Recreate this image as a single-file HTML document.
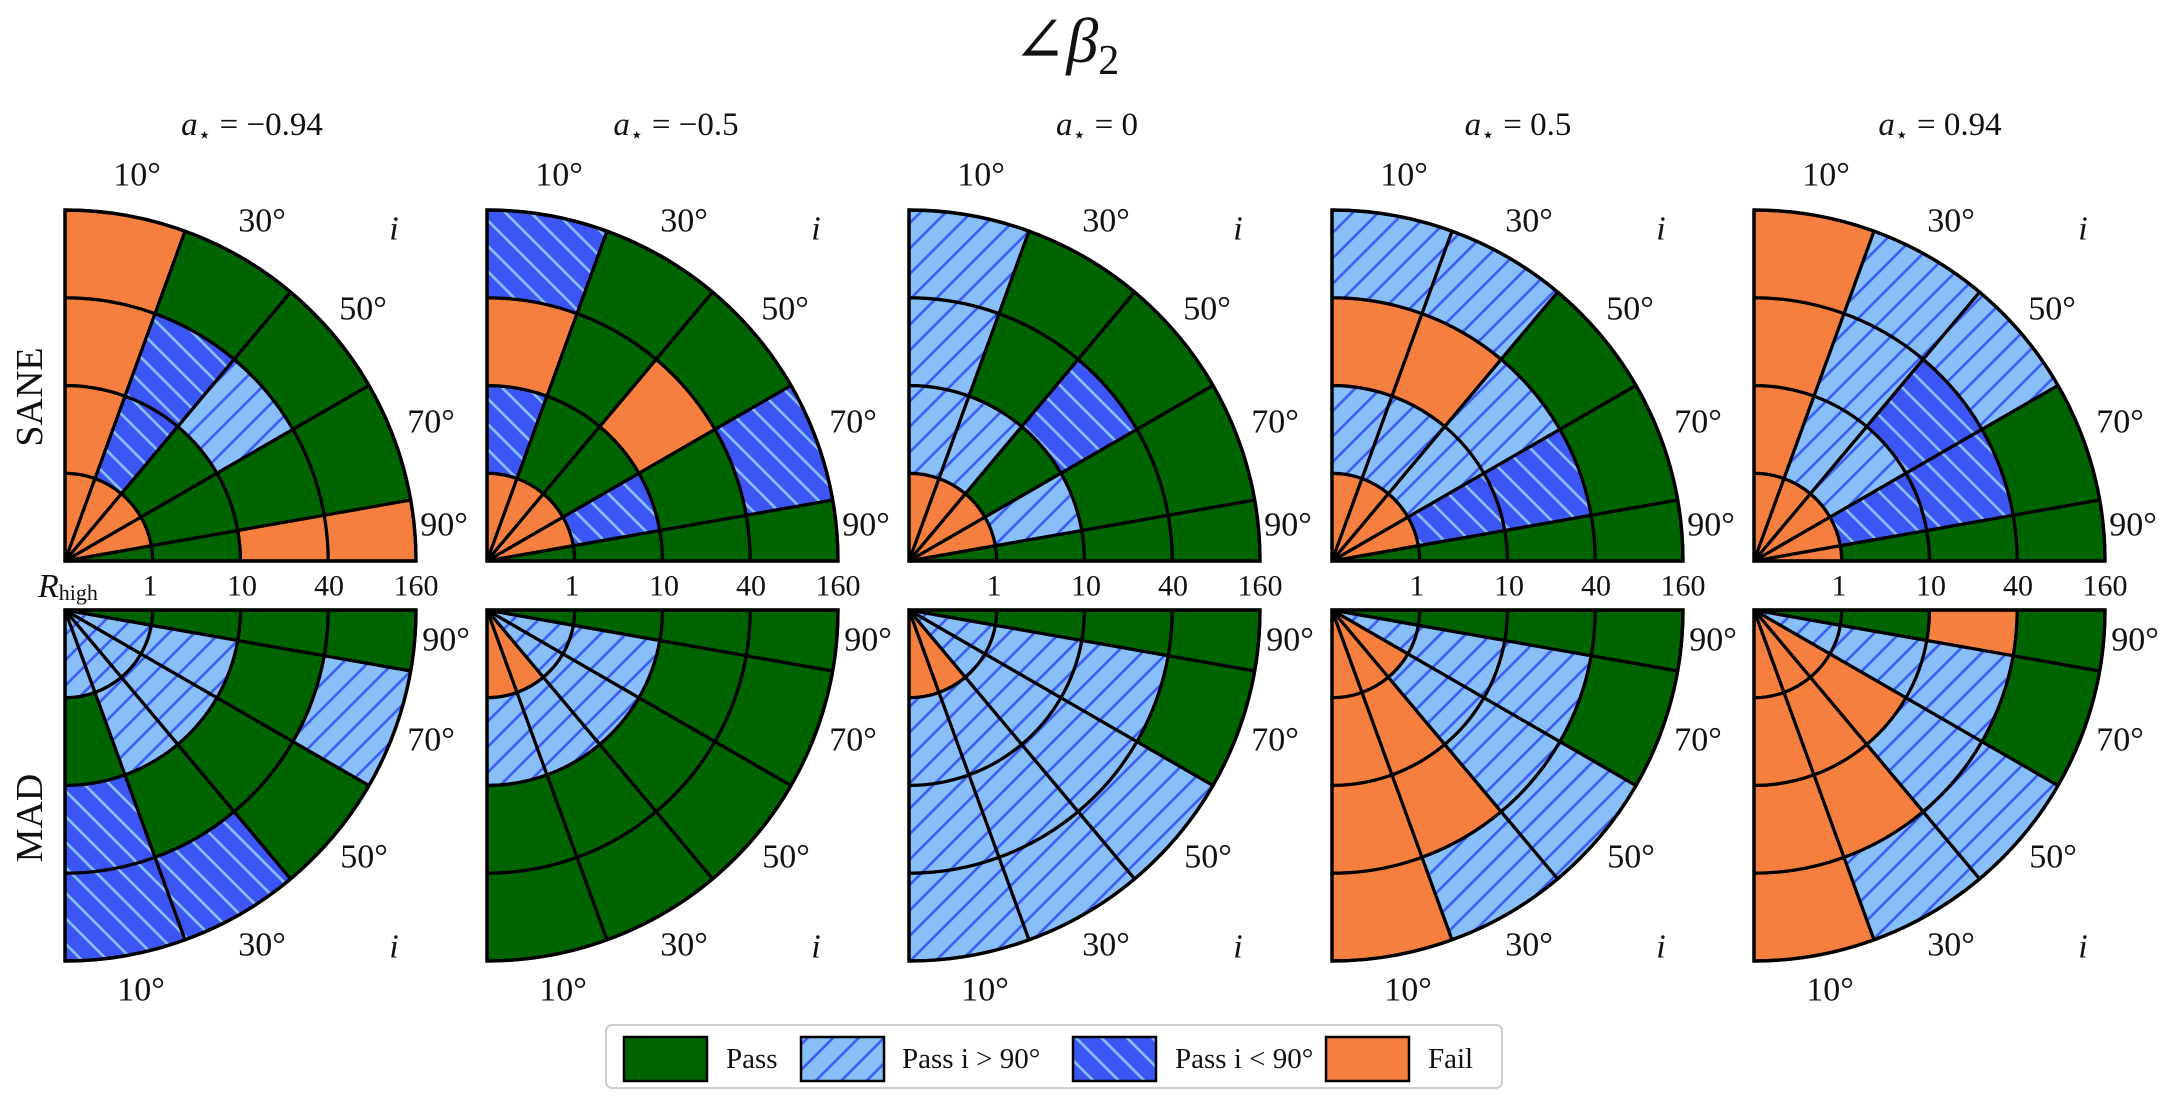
<!DOCTYPE html>
<html><head><meta charset="utf-8"><style>
html,body{margin:0;padding:0;background:#fff;}
svg text{font-family:"Liberation Serif","DejaVu Serif",serif;fill:#111;}
</style></head><body>
<svg id="s" width="2167" height="1092" viewBox="0 0 2167 1092" xmlns="http://www.w3.org/2000/svg">
<defs>
<pattern id="hl" patternUnits="userSpaceOnUse" width="18" height="18" patternTransform="rotate(45)">
<rect width="18" height="18" fill="#88bff8"/><line x1="9" y1="0" x2="9" y2="18" stroke="#3a5cf5" stroke-width="2.6"/></pattern>
<pattern id="hd" patternUnits="userSpaceOnUse" width="18" height="18" patternTransform="rotate(-45)">
<rect width="18" height="18" fill="#3b56f2"/><line x1="9" y1="0" x2="9" y2="18" stroke="#8ac0f8" stroke-width="2.6"/></pattern>
</defs>
<g id="cells"></g>
<text x="1066" y="62" font-size="64" text-anchor="middle"><tspan>∠</tspan><tspan font-style="italic">β</tspan><tspan font-size="42" dy="12">2</tspan></text>
<g font-size="33" text-anchor="middle">
<text x="252" y="135"><tspan font-style="italic">a</tspan><tspan font-size="22" dy="7">⋆</tspan><tspan dy="-7"> = −0.94</tspan></text>
<text x="676" y="135"><tspan font-style="italic">a</tspan><tspan font-size="22" dy="7">⋆</tspan><tspan dy="-7"> = −0.5</tspan></text>
<text x="1097" y="135"><tspan font-style="italic">a</tspan><tspan font-size="22" dy="7">⋆</tspan><tspan dy="-7"> = 0</tspan></text>
<text x="1518" y="135"><tspan font-style="italic">a</tspan><tspan font-size="22" dy="7">⋆</tspan><tspan dy="-7"> = 0.5</tspan></text>
<text x="1940" y="135"><tspan font-style="italic">a</tspan><tspan font-size="22" dy="7">⋆</tspan><tspan dy="-7"> = 0.94</tspan></text>
</g>
<g font-size="38" text-anchor="middle">
<text transform="translate(42,397) rotate(-90)">SANE</text>
<text transform="translate(42,818) rotate(-90)">MAD</text>
</g>
<g font-size="34" text-anchor="middle" dominant-baseline="central">
<text x="137" y="175">10°</text><text x="262" y="221">30°</text><text x="394" y="229" font-style="italic">i</text><text x="363" y="309">50°</text><text x="431" y="422">70°</text><text x="444" y="525">90°</text>
<text x="559" y="175">10°</text><text x="684" y="221">30°</text><text x="816" y="229" font-style="italic">i</text><text x="785" y="309">50°</text><text x="853" y="422">70°</text><text x="866" y="525">90°</text>
<text x="981" y="175">10°</text><text x="1106" y="221">30°</text><text x="1238" y="229" font-style="italic">i</text><text x="1207" y="309">50°</text><text x="1275" y="422">70°</text><text x="1288" y="525">90°</text>
<text x="1404" y="175">10°</text><text x="1529" y="221">30°</text><text x="1661" y="229" font-style="italic">i</text><text x="1630" y="309">50°</text><text x="1698" y="422">70°</text><text x="1711" y="525">90°</text>
<text x="1826" y="175">10°</text><text x="1951" y="221">30°</text><text x="2083" y="229" font-style="italic">i</text><text x="2052" y="309">50°</text><text x="2120" y="422">70°</text><text x="2133" y="525">90°</text>
<text x="141" y="990">10°</text><text x="262" y="945">30°</text><text x="394" y="947" font-style="italic">i</text><text x="364" y="857">50°</text><text x="431" y="740">70°</text><text x="446" y="640">90°</text>
<text x="563" y="990">10°</text><text x="684" y="945">30°</text><text x="816" y="947" font-style="italic">i</text><text x="786" y="857">50°</text><text x="853" y="740">70°</text><text x="868" y="640">90°</text>
<text x="985" y="990">10°</text><text x="1106" y="945">30°</text><text x="1238" y="947" font-style="italic">i</text><text x="1208" y="857">50°</text><text x="1275" y="740">70°</text><text x="1290" y="640">90°</text>
<text x="1408" y="990">10°</text><text x="1529" y="945">30°</text><text x="1661" y="947" font-style="italic">i</text><text x="1631" y="857">50°</text><text x="1698" y="740">70°</text><text x="1713" y="640">90°</text>
<text x="1830" y="990">10°</text><text x="1951" y="945">30°</text><text x="2083" y="947" font-style="italic">i</text><text x="2053" y="857">50°</text><text x="2120" y="740">70°</text><text x="2135" y="640">90°</text>
</g>
<g font-size="30" text-anchor="middle" dominant-baseline="central">
<text x="38" y="586" text-anchor="start"><tspan font-style="italic" font-size="34">R</tspan><tspan font-size="22" dy="6">high</tspan></text>
<text x="150" y="586">1</text><text x="242" y="586">10</text><text x="329" y="586">40</text><text x="416" y="586">160</text>
<text x="572" y="586">1</text><text x="664" y="586">10</text><text x="751" y="586">40</text><text x="838" y="586">160</text>
<text x="994" y="586">1</text><text x="1086" y="586">10</text><text x="1173" y="586">40</text><text x="1260" y="586">160</text>
<text x="1417" y="586">1</text><text x="1509" y="586">10</text><text x="1596" y="586">40</text><text x="1683" y="586">160</text>
<text x="1839" y="586">1</text><text x="1931" y="586">10</text><text x="2018" y="586">40</text><text x="2105" y="586">160</text>
</g>
<g>
<rect x="606" y="1025" width="896" height="63" rx="6" fill="#fff" stroke="#cccccc" stroke-width="2"/>
<rect x="624" y="1037" width="83" height="44" fill="#006400" stroke="#000" stroke-width="2.5"/>
<rect x="801" y="1037" width="83" height="44" fill="url(#hl)" stroke="#000" stroke-width="2.5"/>
<rect x="1073" y="1037" width="83" height="44" fill="url(#hd)" stroke="#000" stroke-width="2.5"/>
<rect x="1326" y="1037" width="83" height="44" fill="#f47f3f" stroke="#000" stroke-width="2.5"/>
<g font-size="29" dominant-baseline="central">
<text x="726" y="1059">Pass</text>
<text x="902" y="1059">Pass i &gt; 90°</text>
<text x="1175" y="1059">Pass i &lt; 90°</text>
<text x="1428" y="1059">Fail</text>
</g>
</g>
</svg>
<script>
(function(){
var NS="http://www.w3.org/2000/svg";
var g=document.getElementById("cells");
var cx=[65,487,909,1332,1754];
var R=351;
var top=[
["OOOO","ODDG","OGLG","OGGG","GGOO"],
["ODOD","OGGG","OGOG","ODGD","GGGG"],
["OLLL","OLGG","OGDG","OLGG","GGGG"],
["OLOL","OLOL","OLLG","ODDG","GGGG"],
["OOOO","OLLL","OLDL","ODDG","OGGG"]];
var bot=[
["LGDD","LLGD","LLGG","LLGL","GGGG"],
["OLGG","OLGG","LLGG","LLGG","GGGG"],
["OLLL","OLLL","LLLL","LLLG","GGGG"],
["OOOO","OOOL","OLLL","LLLG","GGGG"],
["OOOO","OOOL","OOLL","LLLG","GGOG"]];
var ang=[0,20,40,60,80,90];
var col={G:"#006400",O:"#f47f3f",L:"url(#hl)",D:"url(#hd)"};
function pt(x0,y0,r,a,s){var t=a*Math.PI/180;return [x0+r*Math.sin(t),y0+s*r*Math.cos(t)];}
function path(x0,y0,r1,r2,a1,a2,s){
 var p1=pt(x0,y0,r1,a1,s),p2=pt(x0,y0,r2,a1,s),p3=pt(x0,y0,r2,a2,s),p4=pt(x0,y0,r1,a2,s);
 var sw=(s<0)?1:0;
 var d="M"+p1[0].toFixed(2)+","+p1[1].toFixed(2)+"L"+p2[0].toFixed(2)+","+p2[1].toFixed(2)+
 "A"+r2+","+r2+" 0 0 "+sw+" "+p3[0].toFixed(2)+","+p3[1].toFixed(2);
 if(r1>0){d+="L"+p4[0].toFixed(2)+","+p4[1].toFixed(2)+"A"+r1+","+r1+" 0 0 "+(1-sw)+" "+p1[0].toFixed(2)+","+p1[1].toFixed(2);}
 d+="Z";return d;}
function panel(x0,y0,data,s){
 for(var w=0;w<5;w++)for(var r=0;r<4;r++){
  var e=document.createElementNS(NS,"path");
  e.setAttribute("d",path(x0,y0,r*R/4,(r+1)*R/4,ang[w],ang[w+1],s));
  e.setAttribute("fill",col[data[w][r]]);
  e.setAttribute("stroke","#000");e.setAttribute("stroke-width","3.2");
  e.setAttribute("stroke-linejoin","round");
  g.appendChild(e);}
 var o=document.createElementNS(NS,"path");
 o.setAttribute("d",path(x0,y0,0,R,0,90,s));
 o.setAttribute("fill","none");o.setAttribute("stroke","#000");o.setAttribute("stroke-width","3.4");
 g.appendChild(o);}
for(var i=0;i<5;i++){panel(cx[i],561,top[i],-1);panel(cx[i],610,bot[i],1);}
})();
</script>
</body></html>
